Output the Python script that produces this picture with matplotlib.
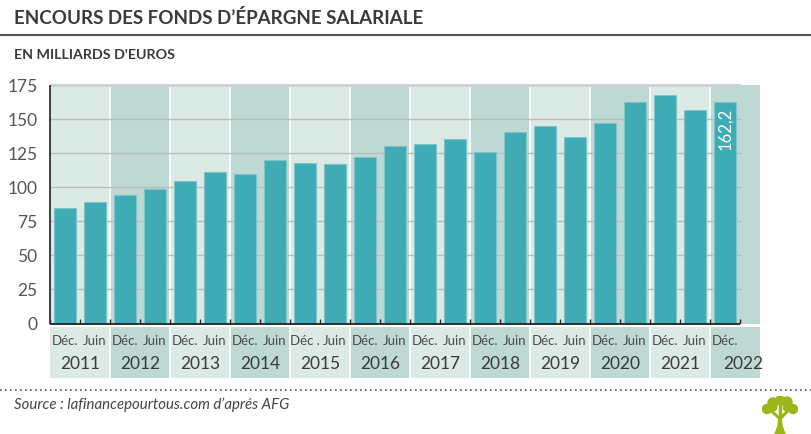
import numpy as np
import matplotlib.pyplot as plt
from matplotlib.patches import Circle, Polygon
from matplotlib.lines import Line2D

# data (billions of euros)
years = ['2011', '2012', '2013', '2014', '2015', '2016',
         '2017', '2018', '2019', '2020', '2021', '2022']
months = ['Déc.', 'Juin', 'Déc.', 'Juin', 'Déc.', 'Juin', 'Déc.', 'Juin',
          'Déc .', 'Juin', 'Déc.', 'Juin', 'Déc.', 'Juin', 'Déc.', 'Juin',
          'Déc.', 'Juin', 'Déc.', 'Juin', 'Déc.', 'Juin', 'Déc.']
values = [85, 89, 94.5, 98.5, 104.5, 111, 110, 120, 117.5, 117, 122.5, 130.5,
          131.5, 135.5, 125.5, 140.5, 145, 136.5, 147, 162.5, 168, 157, 162.2]
yticks = [0, 25, 50, 75, 100, 125, 150, 175]
last_label = '162,2'

W, H = 812, 434
light = '#dceae6'
dark = '#bed9d3'
bar_col = '#3fabb5'
txt = '#3a3a3a'
plt.rcParams['font.family'] = ['Lato', 'DejaVu Sans']

fig = plt.figure(figsize=(W / 100, H / 100), dpi=100)

n = len(values)
xmax = n - 0.5 + 0.67

# main plot
ax = fig.add_axes([50 / W, 1 - 323.5 / H, 710 / W, (323.5 - 85) / H])
ax.set_xlim(-0.5, xmax)
ax.set_ylim(0, 175)
for i, y in enumerate(years):
    x0 = 2 * i - 0.5
    x1 = min(x0 + 2, xmax)
    ax.axvspan(x0, x1, color=light if i % 2 == 0 else dark, lw=0, zorder=0)
    if i > 0:
        ax.axvline(x0, color='white', lw=1.2, zorder=1)
ax.hlines(yticks[1:-1], -0.5, n - 0.45, color='#bbbbbb', lw=1, zorder=1)
ax.hlines(175, -0.5, n - 0.45, color='#cfcfcf', lw=2, zorder=1, clip_on=False)
ax.bar(range(n), values, width=0.73, color=bar_col, edgecolor='#7cc6ca',
       lw=0.8, zorder=2)
ax.hlines(0, -0.5, n - 0.5, color='#222222', lw=1.3, zorder=4, clip_on=False)
ax.vlines(np.arange(-0.5, n), 0, 3, color='#222222', lw=1, zorder=4)
ax.vlines(-0.5, 0, 175, color='#333333', lw=1.3, zorder=4, clip_on=False)
ax.text(n - 1, 158, last_label, rotation=90, ha='center', va='top',
        color='white', fontsize=12, zorder=5)
for s in ax.spines.values():
    s.set_visible(False)
ax.set_xticks([])
ax.set_yticks(yticks)
ax.tick_params(axis='y', length=0, pad=9, labelsize=12.5, labelcolor='#555555')

# label rows under the axis
lab = fig.add_axes([50 / W, 1 - 378 / H, 710 / W, (378 - 327) / H])
lab.set_xlim(-0.5, xmax)
lab.set_ylim(0, 1)
lab.axis('off')
for i, y in enumerate(years):
    x0 = 2 * i - 0.5
    x1 = min(x0 + 2, xmax)
    lab.axvspan(x0, x1, color=light if i % 2 == 0 else dark, lw=0)
    if i > 0:
        lab.axvline(x0, color='white', lw=1.2)
    lab.text((x0 + x1) / 2 if i < len(years) - 1 else x0 + 1.1, 0.28, y,
             ha='center', va='center', fontsize=12.5, color=txt)
for i, m in enumerate(months):
    lab.text(i, 0.72, m, ha='center', va='center', fontsize=9.5,
             color='#4a4a4a')

# titles
fig.text(14 / W, 1 - 18 / H, 'ENCOURS DES FONDS D\u2019ÉPARGNE SALARIALE',
         fontsize=13.5, fontweight='bold', color=txt, va='center')
fig.add_artist(Line2D([0, 1], [1 - 35 / H] * 2, color='#555555', lw=1.5))
fig.text(14 / W, 1 - 55 / H, "EN MILLIARDS D'EUROS", fontsize=10.3,
         fontweight='bold', color=txt, va='center')

# footer
fig.add_artist(Line2D([0, 1], [1 - 390 / H] * 2, color='#555555', lw=1.2,
                      ls=(0, (1, 2))))
fig.text(14 / W, 1 - 405 / H, 'Source : lafinancepourtous.com d\u2019aprés AFG',
         fontsize=10.8, style='italic', color='#444444', va='center')

# small tree logo
logo = fig.add_axes([762 / W, 0, 36 / W, 38 / H])
logo.set_xlim(0, 36)
logo.set_ylim(0, 38)
logo.axis('off')
green = '#9db517'
logo.add_patch(Polygon([[13, 0], [23, 0], [20, 8], [19, 18], [17, 18], [16, 8]],
                       color=green))
logo.add_patch(Polygon([[17, 15], [19, 15], [9, 25], [7, 24]], color=green))
logo.add_patch(Polygon([[17, 15], [19, 15], [29, 25], [27, 26]], color=green))
logo.add_patch(Polygon([[17, 16], [19, 16], [19, 30], [17, 30]], color=green))
for cx, cy, r in [(5, 25, 4.5), (11, 31, 5), (18, 34, 4), (25, 32, 5),
                  (31, 25, 4.5), (24, 26, 2.5), (12, 26, 2.5)]:
    logo.add_patch(Circle((cx, cy), r, color=green))

fig.savefig('out.png', dpi=100)
